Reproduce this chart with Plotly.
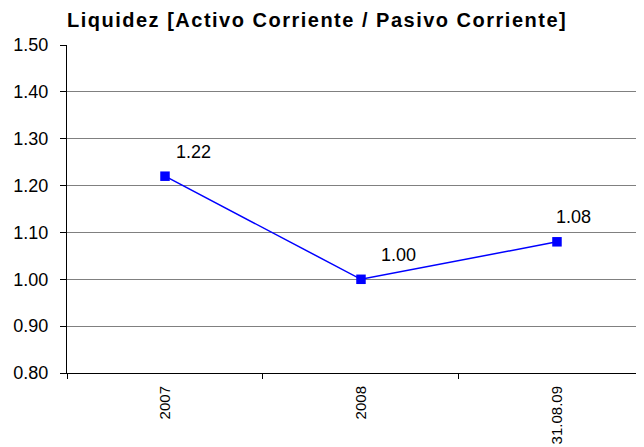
import plotly.graph_objects as go

categories = ["2007", "2008", "31.08.09"]
values = [1.22, 1.00, 1.08]
value_labels = ["1.22", "1.00", "1.08"]
y_ticks = [0.8, 0.9, 1.0, 1.1, 1.2, 1.3, 1.4, 1.5]

# label offsets (pixels) as placed in the original chart
label_dx = [28, 38, 17]
label_dy = [24, 24, 25]

FONT = "Liberation Sans, Arial, sans-serif"

fig = go.Figure()
fig.add_trace(go.Scatter(
    x=categories, y=values, mode="lines+markers",
    line=dict(color="#0000FF", width=1.5),
    marker=dict(symbol="square", size=9.5, color="#0000FF"),
    showlegend=False, hoverinfo="skip",
))
for i, (v, t) in enumerate(zip(values, value_labels)):
    fig.add_annotation(x=i, y=v, text=t, showarrow=False,
                       xshift=label_dx[i], yshift=label_dy[i],
                       font=dict(family=FONT, size=18, color="black"))

W, H = 636, 439
fig.update_layout(
    width=W, height=H,
    margin=dict(l=59, r=0, t=37, b=74, autoexpand=False),
    paper_bgcolor="white", plot_bgcolor="white",
    title=dict(text="<b>Liquidez [Activo Corriente / Pasivo Corriente]</b>",
               x=0, xref="paper", xanchor="left", y=1 - 12 / H, yref="container", yanchor="middle",
               font=dict(family=FONT, size=20, color="black")),
    xaxis=dict(type="category", range=[-0.5, 2.444], tickangle=-90,
               tickson="boundaries", ticks="outside", ticklen=5, tickcolor="black",
               ticklabelstandoff=6,
               showline=True, linecolor="black", linewidth=1, showgrid=False,
               tickfont=dict(family=FONT, size=15, color="black")),
    yaxis=dict(range=[0.8, 1.5], tickvals=y_ticks, tickformat=".2f",
               ticks="outside", ticklen=6, tickcolor="black",
               ticklabelstandoff=8,
               showline=True, linecolor="black", linewidth=1,
               showgrid=True, gridcolor="#808080", gridwidth=1, zeroline=False,
               tickfont=dict(family=FONT, size=18, color="black")),
)
post = ("document.querySelectorAll('.gtitle').forEach(function(e){e.style.letterSpacing='1.5px';});")
fig.write_html("out.html", post_script=post)
